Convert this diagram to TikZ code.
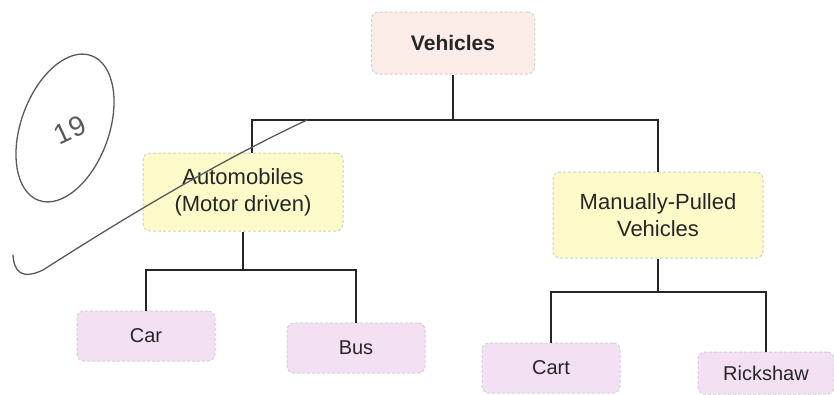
\documentclass[tikz,border=0pt]{standalone}
\usepackage{fontspec}
\setmainfont{Liberation Sans}
\definecolor{rootfill}{RGB}{251,236,232}
\definecolor{groupfill}{RGB}{251,250,200}
\definecolor{leaffill}{RGB}{243,225,243}

\begin{document}
\begin{tikzpicture}[
          x=1pt, y=-1pt,
          box/.style={rectangle, rounded corners=7pt, draw=gray!35, densely dashed,
                      line width=1pt, text=black!85, align=center, inner sep=2pt},
          root/.style={box, fill=rootfill, minimum width=163pt, minimum height=62pt,
                       font=\fontsize{21}{24}\selectfont\bfseries},
          group/.style={box, fill=groupfill, minimum height=82pt,
                        font=\fontsize{22}{27}\selectfont},
          leaf/.style={box, fill=leaffill, minimum width=138pt, minimum height=50pt,
                       font=\fontsize{20}{24}\selectfont},
          link/.style={draw=black!85, line width=2pt},
          pen/.style={draw=black!65, line width=1.3pt, line cap=round},
          hand/.style={text=black!65, font=\fontsize{28}{30}\selectfont}
        ]
          \useasboundingbox (0,0) rectangle (834,394);
          \node[root] (veh) at (453,43) {Vehicles};
          \node[group, minimum width=200pt, minimum height=78pt] (auto) at (243,192)
            {Automobiles\\(Motor driven)};
          \node[group, minimum width=210pt, minimum height=86pt] (man) at (658,215)
            {Manually-Pulled\\Vehicles};
          \node[leaf] (car) at (146,336) {Car};
          \node[leaf] (bus) at (356,348) {Bus};
          \node[leaf] (cart) at (551,368) {Cart};
          \node[leaf, minimum width=136pt, minimum height=42pt] (rick) at (766,373) {Rickshaw};
          % tree links
          \coordinate (j0) at (453,120);
          \coordinate (j1) at (243,270);
          \coordinate (j2) at (658,292);
          \draw[link] (veh) -- (j0);
          \draw[link] ([xshift=9pt]auto.north) |- (j0) -| (man.north);
          \draw[link] (auto) -- (j1);
          \draw[link] (car.north) |- (j1) -| (bus.north);
          \draw[link] (man) -- (j2);
          \draw[link] (cart.north) |- (j2) -| (rick.north);
          % pen marks
          \draw[pen, rotate around={-20:(65,128)}] (65,128) ellipse [x radius=44, y radius=77];
          \node[hand, rotate=25] (num) at (70,130) {19};
          \draw[pen] (13,255) .. controls (14,272) and (22,280) .. (43,270)
            .. controls (90,240) and (200,170) .. (307,120);
        \end{tikzpicture}
\end{document}
